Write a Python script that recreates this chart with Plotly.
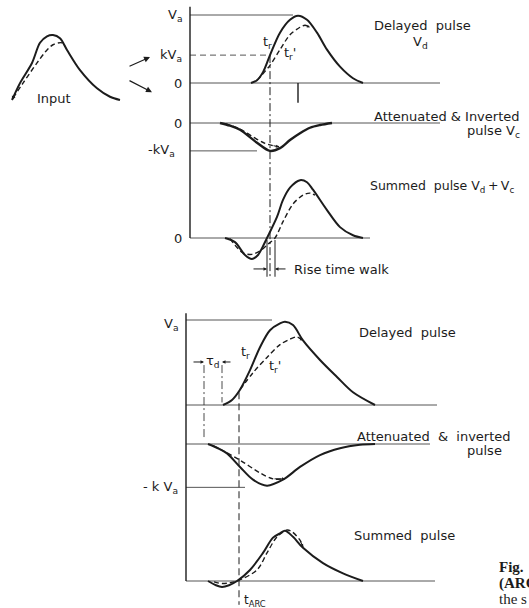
import plotly.graph_objects as go

W, H = 529, 608
INK = "#1c1c1c"
GREY = "#555555"
FONT = "DejaVu Sans"

# ---- values: time in arbitrary units, amplitude in units of Va ----
input_t = [0.2, 1.0, 2.2, 3.0, 3.7, 4.3, 5.0, 5.7, 7.0, 8.7, 10.0, 11.0]
input_v = [0.0, 0.26, 0.57, 0.88, 0.98, 1.0, 0.95, 0.77, 0.46, 0.18, 0.05, 0.0]
input_dash_t = [0.3, 1.3, 2.7, 3.7, 4.3, 5.2, 5.5]
input_dash_v = [0.03, 0.26, 0.57, 0.77, 0.85, 0.88, 0.82]

# upper sketch (constant fraction)
vd_t = [6.1, 6.7, 7.3, 8.0, 9.0, 10.0, 10.8, 11.7, 12.7, 13.7, 15.0, 16.3, 17.3]
vd_v = [0.0, 0.04, 0.16, 0.41, 0.74, 0.93, 0.99, 0.93, 0.74, 0.49, 0.24, 0.07, 0.0]
vd_dash_t = [6.7, 7.2, 8.0, 9.0, 10.0, 11.0, 11.5, 12.0]
vd_dash_v = [0.04, 0.12, 0.26, 0.49, 0.71, 0.82, 0.85, 0.82]

vc_t = [3.0, 4.0, 5.0, 6.7, 8.0, 9.0, 10.0, 11.0, 12.0, 13.0, 14.2]
vc_v = [0.0, -0.04, -0.10, -0.29, -0.41, -0.37, -0.25, -0.15, -0.07, -0.03, 0.0]
vc_dash_t = [3.5, 5.0, 6.7, 7.5, 8.2, 8.9]
vc_dash_v = [-0.01, -0.09, -0.24, -0.30, -0.33, -0.35]

sum_t = [3.5, 4.5, 5.5, 6.2, 6.8, 7.3, 7.7, 8.7, 9.3, 10.0, 11.0, 11.7, 12.3, 13.7, 15.0, 16.3, 17.3]
sum_v = [0.0, -0.06, -0.25, -0.31, -0.25, -0.12, 0.0, 0.31, 0.56, 0.74, 0.85, 0.82, 0.71, 0.41, 0.16, 0.04, 0.0]
sum_dash_t = [4.0, 5.3, 6.2, 7.0, 7.8, 8.5, 9.3, 10.3, 11.3, 12.0, 12.5]
sum_dash_v = [-0.01, -0.22, -0.24, -0.19, -0.09, 0.0, 0.24, 0.50, 0.63, 0.66, 0.63]

# lower sketch (ARC)
arc_d_t = [3.7, 4.6, 5.4, 6.4, 7.4, 8.4, 9.4, 9.9, 10.7, 11.7, 13.4, 15.1, 16.7, 18.9]
arc_d_v = [0.0, 0.06, 0.18, 0.41, 0.68, 0.88, 0.96, 0.98, 0.94, 0.76, 0.53, 0.33, 0.15, 0.0]
arc_d_dash_t = [5.4, 6.7, 8.1, 9.4, 10.7, 11.1, 11.7]
arc_d_dash_v = [0.18, 0.38, 0.56, 0.71, 0.79, 0.80, 0.76]

arc_c_t = [2.2, 3.2, 4.1, 5.4, 6.7, 8.1, 9.7, 11.4, 13.4, 15.4, 17.4, 18.9]
arc_c_v = [0.0, -0.05, -0.11, -0.27, -0.42, -0.49, -0.42, -0.27, -0.13, -0.05, -0.01, 0.0]
arc_c_dash_t = [2.7, 3.4, 5.4, 7.4, 8.7, 9.9]
arc_c_dash_v = [-0.02, -0.06, -0.19, -0.34, -0.41, -0.41]

arc_s_t = [2.2, 3.0, 3.6, 4.3, 5.1, 6.4, 7.7, 8.7, 9.4, 9.9, 10.7, 11.7, 13.7, 15.7, 17.7]
arc_s_v = [0.0, -0.05, -0.07, -0.05, 0.0, 0.13, 0.33, 0.51, 0.56, 0.59, 0.52, 0.39, 0.21, 0.09, 0.0]
arc_s_dash_t = [2.8, 3.6, 4.4, 5.1, 7.1, 8.1, 9.1, 10.1, 10.6, 11.4, 11.7]
arc_s_dash_v = [-0.01, -0.03, -0.02, 0.0, 0.13, 0.33, 0.52, 0.60, 0.58, 0.48, 0.40]

VA = 1.0
K_TOP = 0.41
K_BOT = 0.51
T_R = 8.0              # constant-fraction crossing, upper sketch
WALK = [7.7, 8.5]      # zero crossings of solid / dashed summed pulse
T_PEAK = 10.8
TAU_D = [1.8, 3.6]
T_ARC = 5.3

# panel placement: (pixel of t=0, px per unit v, pixel row of baseline)
PANELS = {
    "in": (10, 65, 100),
    "A": (190, 68, 83),
    "B": (190, 68, 123),
    "C": (190, 68, 238),
    "D": (186, 85, 405),
    "E": (186, 85, 444),
    "F": (186, 85, 581),
}
SX = 10
NAMES = list(PANELS)


def axes_of(p):
    i = NAMES.index(p) + 1
    s = "" if i == 1 else str(i)
    return "x" + s, "y" + s


def py(p, v):
    x0, sy, base = PANELS[p]
    return 1 - (base - v * sy) / H


fig = go.Figure()


def curve(p, t, v, dash=None, width=2.0, color=INK, spline=True):
    xa, ya = axes_of(p)
    fig.add_trace(go.Scatter(x=t, y=v, mode="lines", xaxis=xa, yaxis=ya,
                             line=dict(color=color, width=width, dash=dash,
                                       shape="spline" if spline else "linear", smoothing=0.9),
                             hoverinfo="skip", showlegend=False))


def level(p, t0, t1, v, dash=None, width=1.0):
    curve(p, [t0, t1], [v, v], dash=dash, width=width, color=GREY, spline=False)


def vline(p, t, p0, v0, p1, v1, dash=None, width=1.0):
    xa, _ = axes_of(p)
    fig.add_shape(type="line", xref=xa, yref="paper", x0=t, x1=t, y0=py(p0, v0), y1=py(p1, v1),
                  line=dict(color=INK, width=width, dash=dash))


def label(p, t, v, text, xanchor="center", size=13, yanchor="middle"):
    xa, ya = axes_of(p)
    fig.add_annotation(x=t, y=v, xref=xa, yref=ya, text=text, showarrow=False,
                       xanchor=xanchor, yanchor=yanchor,
                       font=dict(family=FONT, size=size, color=INK))


def arrow(p, t, v, t_tail, v_tail, size=0.8, width=1.0):
    xa, ya = axes_of(p)
    fig.add_annotation(x=t, y=v, ax=t_tail, ay=v_tail, xref=xa, yref=ya, axref=xa, ayref=ya,
                       text="", showarrow=True, arrowhead=2, arrowsize=size,
                       arrowwidth=width, arrowcolor=INK, font=dict(size=10))


# input pulse
curve("in", input_t, input_v)
curve("in", input_dash_t, input_dash_v, dash="5px,3px", width=1.4)
arrow("in", input_t[0], input_v[0], input_t[1], input_v[1])
label("in", 4.4, 0.03, "Input")
arrow("in", 14.0, 0.66, 11.8, 0.51, size=1, width=1.2)
arrow("in", 14.2, 0.12, 11.8, 0.31, size=1, width=1.2)

# upper sketch
for p, end in (("A", 25), ("B", 25), ("C", 18)):
    level(p, 0, end, 0)
level("A", 0, 10.3, VA)
level("A", 0, T_R, K_TOP, dash="6px,4px")
level("B", 0, 6.7, -K_TOP)

curve("A", vd_t, vd_v)
curve("A", vd_dash_t, vd_dash_v, dash="5px,3px", width=1.4)
arrow("A", vd_dash_t[-1], vd_dash_v[-1], vd_dash_t[-2], vd_dash_v[-2], size=0.6)
curve("B", vc_t, vc_v, width=2.4)
curve("B", vc_dash_t, vc_dash_v, dash="5px,3px", width=1.4)
arrow("B", vc_dash_t[-1], vc_dash_v[-1], vc_dash_t[-2], vc_dash_v[-2], size=0.6)
curve("C", sum_t, sum_v)
curve("C", sum_dash_t, sum_dash_v, dash="5px,3px", width=1.4)

vline("A", 0, "C", 0, "A", 1.12, width=1.4)
vline("A", T_R, "A", K_TOP, "C", -0.57, dash="8px,3px,2px,3px")
vline("A", T_PEAK, "A", 0, "A", -0.29, width=1.4)
vline("C", WALK[0], "C", -0.03, "C", -0.57)
vline("C", WALK[1], "C", -0.03, "C", -0.57)
arrow("C", WALK[0], -0.455, WALK[0] - 1.5, -0.455, size=0.7)
arrow("C", WALK[1], -0.455, WALK[1] + 1.2, -0.455, size=0.7)

label("A", -0.6, VA, "V<sub>a</sub>", xanchor="right")
label("A", -0.6, K_TOP, "kV<sub>a</sub>", xanchor="right")
label("A", -0.6, 0, "0", xanchor="right")
label("B", -0.6, 0, "0", xanchor="right")
label("B", -1.3, -K_TOP, "-kV<sub>a</sub>", xanchor="right")
label("C", -0.6, 0, "0", xanchor="right")
label("A", 7.7, 0.60, "t<sub>r</sub>")
label("A", 10.0, 0.44, "t<sub>r</sub>'")
label("A", 18.2, 0.85, "Delayed\u00a0\u00a0pulse", xanchor="left")
label("A", 23.0, 0.59, "V<sub>d</sub>")
label("B", 18.2, 0.09, "Attenuated\u00a0& Inverted", xanchor="left")
label("B", 33.2, -0.12, "pulse V<sub>c</sub>", xanchor="right")
label("C", 17.8, 0.76, "Summed\u00a0\u00a0pulse V<sub>d</sub>\u2009+\u2009V<sub>c</sub>",
      xanchor="left", size=12.5)
label("C", 10.2, -0.47, "Rise time walk", xanchor="left")

# lower sketch
for p, end in (("D", 25.1), ("E", 24.4), ("F", 24.9)):
    level(p, 0, end, 0)
level("D", 0, 8.6, VA)
level("E", 0, 5.9, -K_BOT)

curve("D", arc_d_t, arc_d_v)
curve("D", arc_d_dash_t, arc_d_dash_v, dash="5px,3px", width=1.4)
arrow("D", arc_d_dash_t[-1], arc_d_dash_v[-1], arc_d_dash_t[-2], arc_d_dash_v[-2], size=0.6)
curve("E", arc_c_t, arc_c_v)
curve("E", arc_c_dash_t, arc_c_dash_v, dash="5px,3px", width=1.4)
arrow("E", arc_c_dash_t[-1], arc_c_dash_v[-1], arc_c_dash_t[-2], arc_c_dash_v[-2], size=0.6)
curve("F", arc_s_t, arc_s_v)
curve("F", arc_s_dash_t, arc_s_dash_v, dash="5px,3px", width=1.4)
arrow("F", arc_s_dash_t[-1], arc_s_dash_v[-1], arc_s_dash_t[-2], arc_s_dash_v[-2], size=0.6)

vline("D", 0, "F", 0, "D", 1.08, width=1.4)
vline("D", TAU_D[0], "D", 0.47, "E", 0.08, dash="8px,3px,2px,3px", width=0.8)
vline("D", TAU_D[1], "D", 0.47, "D", 0.03, dash="8px,3px,2px,3px", width=0.8)
vline("D", T_ARC, "D", 0.15, "F", -0.28, dash="7px,4px")
arrow("D", TAU_D[0], 0.506, TAU_D[0] - 1.2, 0.506, size=0.7)
arrow("D", TAU_D[1], 0.506, TAU_D[1] + 1.0, 0.506, size=0.7)

label("D", -0.6, 0.95, "V<sub>a</sub>", xanchor="right")
label("E", -0.6, -K_BOT, "- k V<sub>a</sub>", xanchor="right")
label("D", 5.9, 0.62, "t<sub>r</sub>")
label("D", 8.9, 0.45, "t<sub>r</sub>'")
label("D", 2.7, 0.51, "τ<sub>d</sub>")
label("D", 17.1, 0.85, "Delayed\u00a0\u00a0pulse", xanchor="left")
label("E", 16.9, 0.09, "Attenuated\u00a0\u00a0&\u00a0\u00a0inverted", xanchor="left")
label("E", 27.9, -0.08, "pulse", xanchor="left")
label("F", 16.6, 0.53, "Summed\u00a0\u00a0pulse", xanchor="left")
label("F", 5.6, -0.235, "t<sub>ARC</sub>", xanchor="left", size=12)

# caption fragment cut off at the right edge of the scan
for text, ypx in (("<b>Fig.</b>", 567), ("<b>(ARC</b>", 583), ("the s", 599)):
    fig.add_annotation(x=497 / W, y=1 - ypx / H, xref="paper", yref="paper", text=text,
                       showarrow=False, xanchor="left", yanchor="middle",
                       font=dict(family="Liberation Serif", size=15, color=INK))

layout = dict(width=W, height=H, margin=dict(l=0, r=0, t=0, b=0),
              paper_bgcolor="white", plot_bgcolor="rgba(0,0,0,0)", showlegend=False)
for i, p in enumerate(NAMES, start=1):
    x0, sy, base = PANELS[p]
    s = "" if i == 1 else str(i)
    xa = dict(domain=[0, 1], range=[-x0 / SX, (W - x0) / SX], visible=False, fixedrange=True)
    ya = dict(domain=[0, 1], range=[(base - H) / sy, base / sy], visible=False, fixedrange=True)
    if i > 1:
        xa["overlaying"] = "x"
        ya["overlaying"] = "y"
    xa["anchor"] = "y" + s
    ya["anchor"] = "x" + s
    layout["xaxis" + s] = xa
    layout["yaxis" + s] = ya
fig.update_layout(**layout)

fig.write_html("out.html", config={"displayModeBar": False},
               post_script="document.body.style.margin='0';")
